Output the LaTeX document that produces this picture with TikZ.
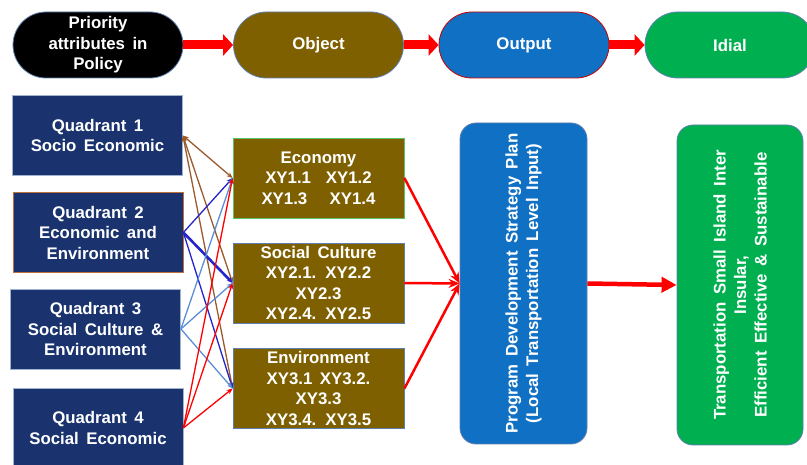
\documentclass[tikz,border=0pt]{standalone}
\usepackage{fontspec}
\setmainfont{Liberation Sans}[WordSpace=1.6]
\usetikzlibrary{arrows.meta}
\definecolor{navyfill}{HTML}{1A336F}
\definecolor{objfill}{HTML}{7F6000}
\definecolor{outfill}{HTML}{1070C4}
\definecolor{greenfill}{HTML}{00B050}
\definecolor{edgegrey}{HTML}{5F7FAF}
\definecolor{quadtwo}{HTML}{C0703C}
\definecolor{ecoedge}{HTML}{5CC26A}
\definecolor{brownline}{HTML}{9C5A2C}
\definecolor{dblue}{HTML}{2424CC}
\definecolor{lblue}{HTML}{5B8ED6}
\definecolor{redline}{HTML}{FF0000}
\tikzset{
  txt/.style={text=white, font=\bfseries\fontsize{16.8}{20.5}\selectfont, align=center, inner sep=0pt},
  pill/.style={txt, rounded corners=33pt, minimum width=170pt, minimum height=66pt, line width=0.8pt},
  quad/.style={txt, fill=navyfill, minimum width=170pt, minimum height=80pt, draw=edgegrey!60, line width=0.8pt},
  obj/.style={txt, fill=objfill, minimum width=171pt, minimum height=80pt, draw=edgegrey, line width=0.8pt},
  tall/.style={rounded corners=16pt, minimum width=127pt, minimum height=321pt, draw=edgegrey, line width=0.8pt, inner sep=0pt},
  bigarrow/.style={redline, line width=9pt, -{Triangle[length=10pt,width=21pt]}},
  conv/.style={redline, line width=2.5pt, -{Stealth[length=11pt,width=9pt]}},
  thin/.style={line width=1.3pt, -{Stealth[length=6pt,width=5pt]}},
}
\begin{document}
\begin{tikzpicture}[x=1pt,y=-1pt]
\useasboundingbox (0,0) rectangle (807,465);
% top row
\node[pill, fill=black, draw=edgegrey] (pri) at (98,45) {Priority\\attributes in\\Policy};
\node[pill, fill=objfill, draw=edgegrey] (obj) at (318.5,45) {Object};
\node[pill, fill=outfill, draw=red!80!black] (outp) at (524,45) {Output};
\node[pill, fill=greenfill, draw=edgegrey] (idl) at (730,45) {Idial};
\draw[bigarrow] (pri.east) -- (obj.west);
\draw[bigarrow] (obj.east) -- (outp.west);
\draw[bigarrow] (outp.east) -- (idl.west);
% quadrants
\node[quad] (q1) at (97.5,135.5) {Quadrant 1\\Socio Economic};
\node[quad, draw=quadtwo] (q2) at (98,232.5) {Quadrant 2\\Economic and\\Environment};
\node[quad] (q3) at (95.5,329) {Quadrant 3\\Social Culture \&\\Environment};
\node[quad] (q4) at (98,428) {Quadrant 4\\Social Economic};
% objects
\node[obj, draw=ecoedge] (eco) at (318.5,178) {Economy\\XY1.1 \ XY1.2\\XY1.3 \ \ XY1.4};
\node[obj] (soc) at (318.5,283) {Social Culture\\XY2.1. XY2.2\\XY2.3\\XY2.4. XY2.5};
\node[obj] (env) at (318.5,388.5) {Environment\\XY3.1 XY3.2.\\XY3.3\\XY3.4. XY3.5};
% tall boxes
\node[tall, fill=outfill] (prog) at (523.5,283.5) {};
\node[txt, rotate=90] (progtxt) at (prog.center) {Program Development Strategy Plan\\(Local Transportation Level Input)};
\node[tall, fill=greenfill, minimum width=126pt, minimum height=320pt] (trans) at (740,285) {};
\node[txt, rotate=90] (transtxt) at (trans.center) {Transportation Small Island Inter\\Insular,\\Efficient Effective \& Sustainable};
% crossing connectors
\draw[thin, brownline, {Stealth[length=6pt,width=5pt]}-{Stealth[length=6pt,width=5pt]}] (q1.east) -- (eco.west);
\draw[thin, brownline, {Stealth[length=6pt,width=5pt]}-{Stealth[length=6pt,width=5pt]}] (q1.east) -- (soc.west);
\draw[thin, brownline, {Stealth[length=6pt,width=5pt]}-{Stealth[length=6pt,width=5pt]}] (q1.east) -- (env.west);
\draw[thin, dblue] (q2.east) -- (eco.west);
\draw[thin, dblue, line width=2.6pt] (q2.east) -- (soc.west);
\draw[thin, dblue] (q2.east) -- (env.west);
\draw[thin, lblue] (q3.east) -- (eco.west);
\draw[thin, lblue] (q3.east) -- (soc.west);
\draw[thin, lblue] (q3.east) -- (env.west);
\draw[thin, redline] (q4.east) -- (eco.west);
\draw[thin, redline] (q4.east) -- (soc.west);
\draw[thin, redline] (q4.east) -- (env.west);
% converging
\draw[conv] (eco.east) -- (prog.west);
\draw[conv] (soc.east) -- (prog.west);
\draw[conv] (env.east) -- (prog.west);
\draw[redline, line width=4.5pt, -{Triangle[length=15pt,width=15pt]}] (prog.east) -- (trans.west);
\end{tikzpicture}
\end{document}
